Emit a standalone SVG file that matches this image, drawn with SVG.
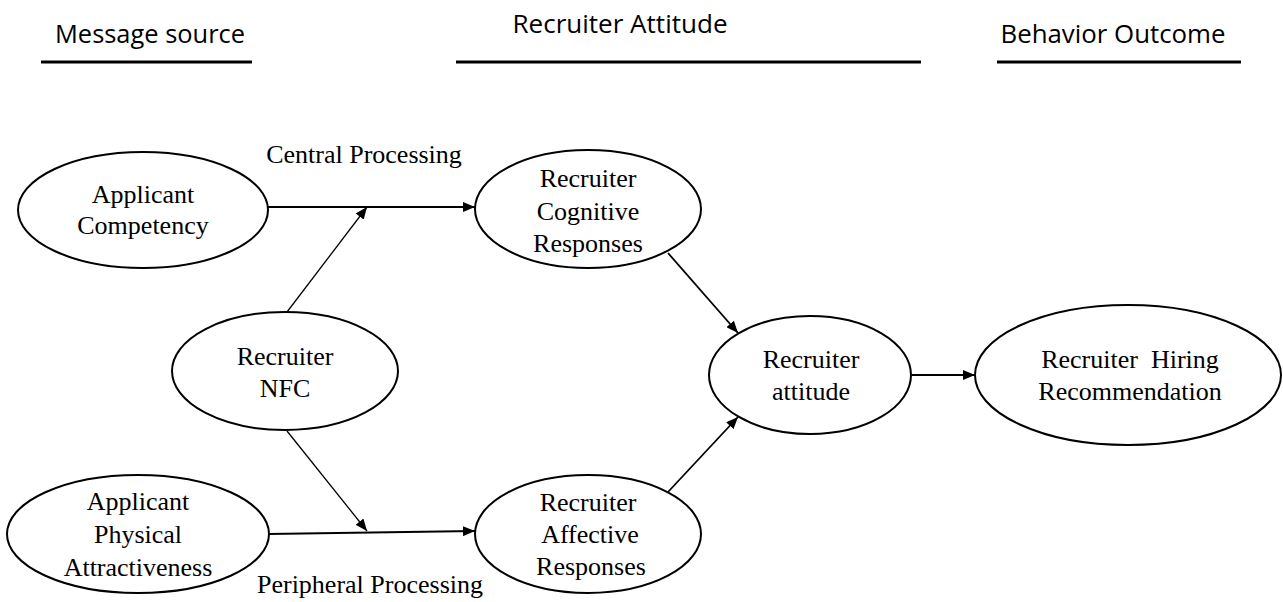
<svg xmlns="http://www.w3.org/2000/svg" width="1283" height="602" viewBox="0 0 1283 602">
  <style>
    .hdr { font-family: "Open Sans", "Liberation Sans", Arial, sans-serif; font-size: 25px; fill: #000; text-anchor: middle; }
    .rule { stroke: #000; stroke-width: 3; }
    .node ellipse { fill: #fff; stroke: #000; stroke-width: 2; }
    .lbl { font-family: "Liberation Serif", "Times New Roman", serif; font-size: 26px; fill: #000; text-anchor: middle; }
    .edge { stroke: #000; stroke-width: 1.8; fill: none; marker-end: url(#arrow); }
    .thin { stroke-width: 1.3; }
  </style>
  <defs>
    <marker id="arrow" viewBox="0 0 12 10" refX="12" refY="5" markerWidth="12" markerHeight="10" markerUnits="userSpaceOnUse" orient="auto">
      <path d="M0,0 L12,5 L0,10 Z" fill="#000"/>
    </marker>
  </defs>
  <rect width="1283" height="602" fill="#fff"/>

  <!-- column headers -->
  <g id="headers">
    <text class="hdr" x="150" y="43" textLength="190" lengthAdjust="spacingAndGlyphs">Message source</text>
    <line class="rule" x1="41" y1="62" x2="252" y2="62"/>
    <text class="hdr" x="620" y="33" textLength="215" lengthAdjust="spacingAndGlyphs">Recruiter Attitude</text>
    <line class="rule" x1="456" y1="62" x2="921" y2="62"/>
    <text class="hdr" x="1113" y="43" textLength="225" lengthAdjust="spacingAndGlyphs">Behavior Outcome</text>
    <line class="rule" x1="997" y1="62" x2="1241" y2="62"/>
  </g>

  <!-- connectors -->
  <g id="connectors">
    <line class="edge" x1="268" y1="207" x2="475" y2="207"/>
    <line class="edge thin" x1="287" y1="312" x2="367" y2="207"/>
    <line class="edge" x1="268" y1="534" x2="475" y2="531"/>
    <line class="edge thin" x1="287" y1="431" x2="367" y2="531"/>
    <line class="edge" x1="668" y1="253" x2="738" y2="333"/>
    <line class="edge" x1="668" y1="492" x2="738" y2="417"/>
    <line class="edge" x1="912" y1="375" x2="975" y2="375"/>
    <text class="lbl" x="364" y="163">Central Processing</text>
    <text class="lbl" x="370" y="593">Peripheral Processing</text>
  </g>

  <!-- nodes -->
  <g id="applicant-competency" class="node">
    <ellipse cx="143" cy="210" rx="125" ry="58"/>
    <text class="lbl" x="143" y="203">Applicant</text>
    <text class="lbl" x="143" y="234">Competency</text>
  </g>
  <g id="recruiter-nfc" class="node">
    <ellipse cx="285" cy="371" rx="113" ry="59"/>
    <text class="lbl" x="285" y="365">Recruiter</text>
    <text class="lbl" x="285" y="397">NFC</text>
  </g>
  <g id="applicant-attractiveness" class="node">
    <ellipse cx="138" cy="534" rx="131" ry="59"/>
    <text class="lbl" x="138" y="510">Applicant</text>
    <text class="lbl" x="138" y="543">Physical</text>
    <text class="lbl" x="138" y="576">Attractiveness</text>
  </g>
  <g id="cognitive-responses" class="node">
    <ellipse cx="588" cy="209" rx="113" ry="59"/>
    <text class="lbl" x="588" y="187">Recruiter</text>
    <text class="lbl" x="588" y="220">Cognitive</text>
    <text class="lbl" x="588" y="252">Responses</text>
  </g>
  <g id="affective-responses" class="node">
    <ellipse cx="588" cy="534" rx="113" ry="59"/>
    <text class="lbl" x="588" y="511">Recruiter</text>
    <text class="lbl" x="590" y="543">Affective</text>
    <text class="lbl" x="591" y="575">Responses</text>
  </g>
  <g id="recruiter-attitude" class="node">
    <ellipse cx="810" cy="375" rx="101" ry="59"/>
    <text class="lbl" x="811" y="368">Recruiter</text>
    <text class="lbl" x="811" y="400">attitude</text>
  </g>
  <g id="hiring-recommendation" class="node">
    <ellipse cx="1128" cy="375" rx="153" ry="70"/>
    <text class="lbl" x="1130" y="368" xml:space="preserve">Recruiter  Hiring</text>
    <text class="lbl" x="1130" y="400">Recommendation</text>
  </g>
</svg>
